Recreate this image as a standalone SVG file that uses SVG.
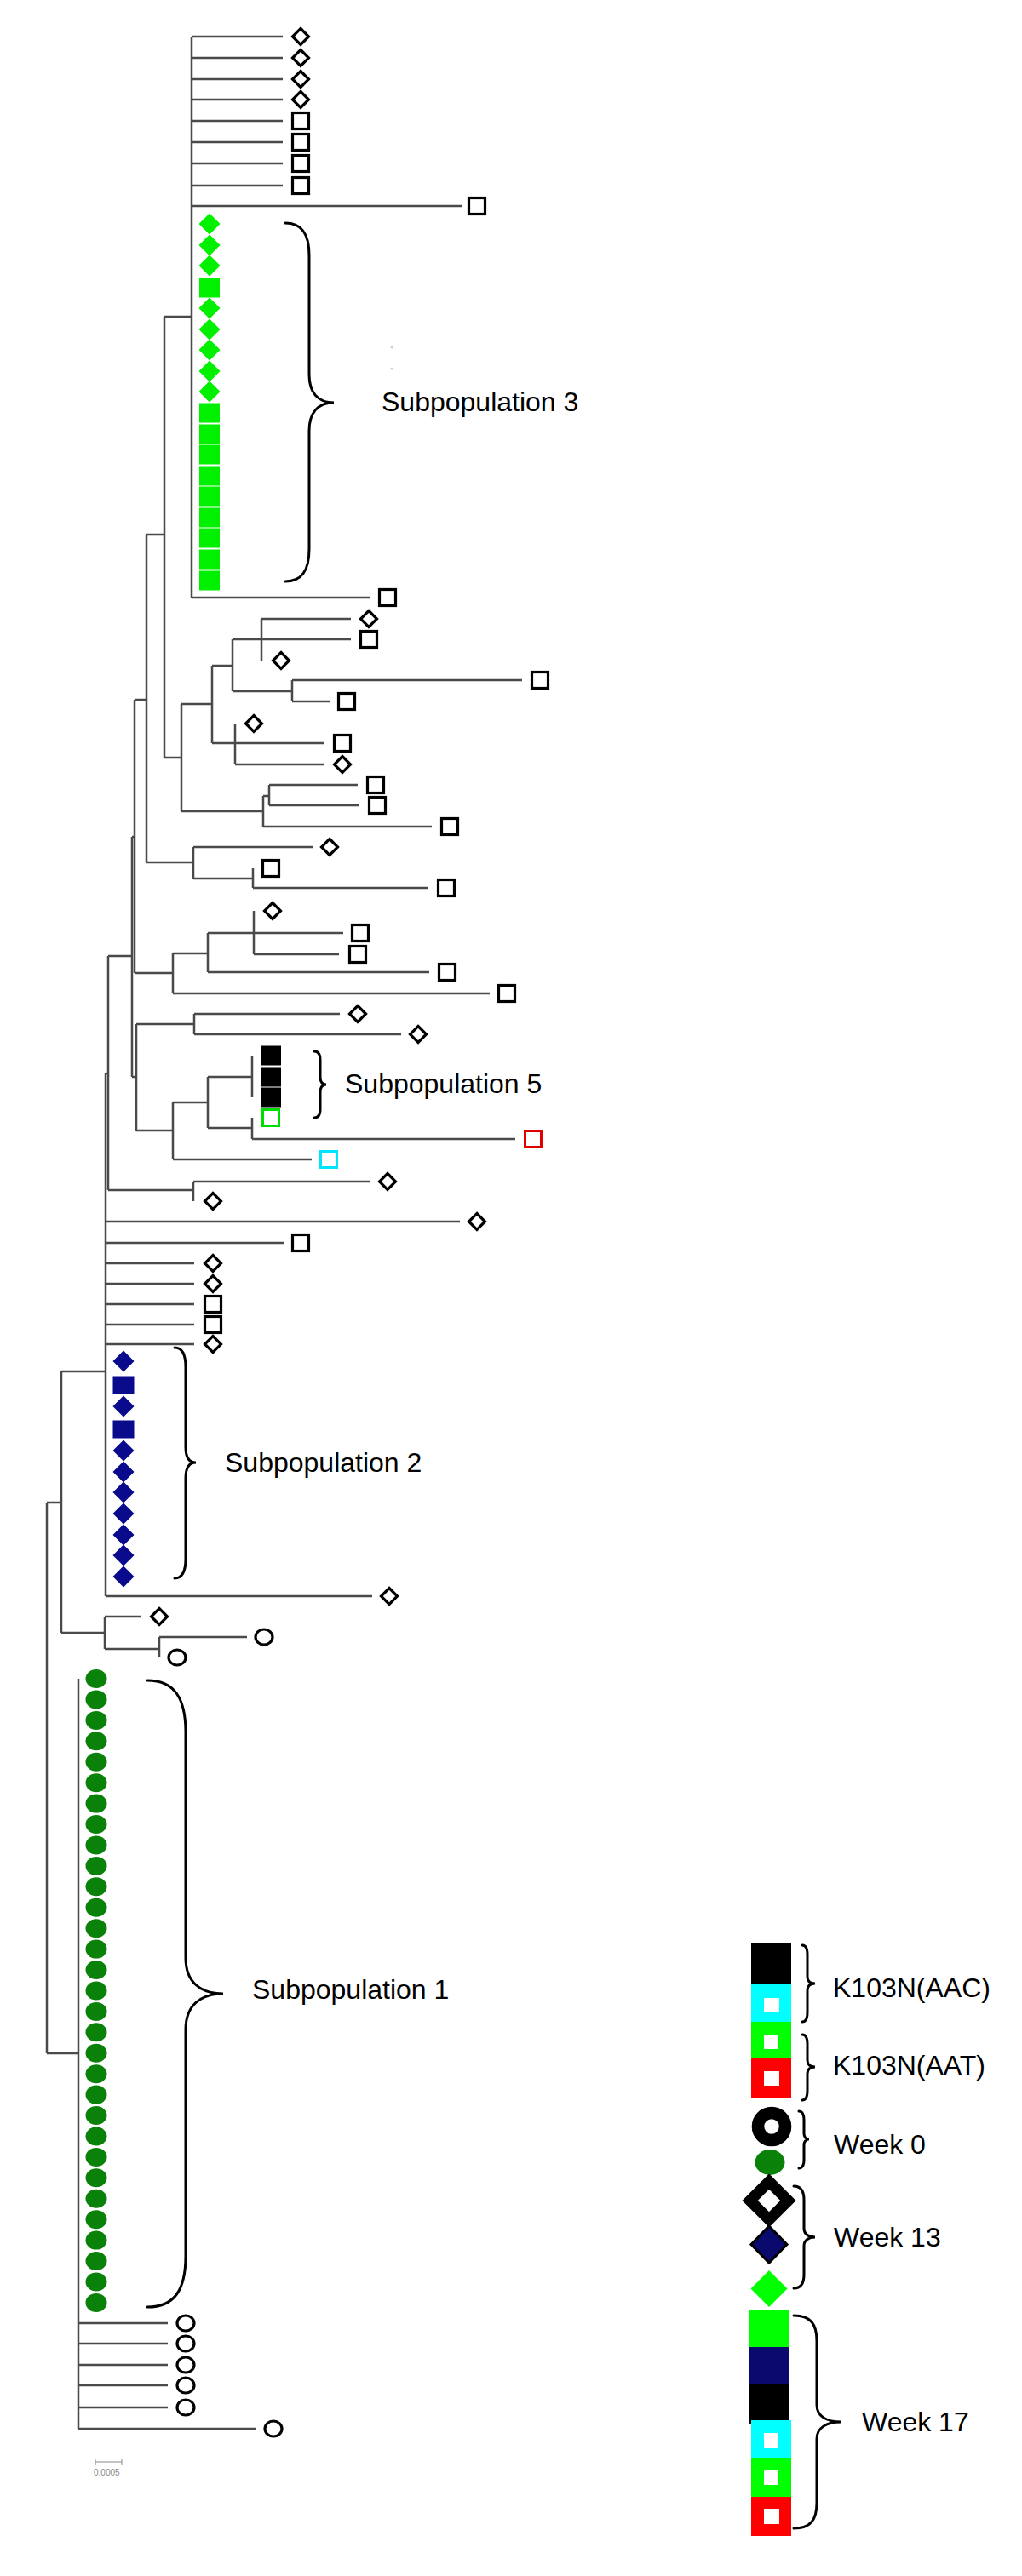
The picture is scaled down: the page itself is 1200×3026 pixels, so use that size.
<svg xmlns="http://www.w3.org/2000/svg" xmlns:xlink="http://www.w3.org/1999/xlink" width="1200" height="3026" viewBox="0 0 1200 3026">
<style>
.t{stroke:#4a4a4a;stroke-width:2.5;fill:none}
.br{stroke:#000;stroke-width:3;fill:none;stroke-linecap:round}
.lbl{font-family:"Liberation Sans",Arial,sans-serif;font-size:32px;fill:#000}
</style>
<defs>
<polygon id="od" points="0,-9.5 9.5,0 0,9.5 -9.5,0" fill="#fff" stroke="#000" stroke-width="3.2"/>
<rect id="os" x="-9.5" y="-9.5" width="19" height="19" fill="#fff" stroke="#000" stroke-width="3.2"/>
<ellipse id="oc" rx="10" ry="9" fill="#fff" stroke="#000" stroke-width="3.2"/>
<polygon id="gd" points="0,-12.5 12.5,0 0,12.5 -12.5,0" fill="#00f000"/>
<rect id="gs" x="-12" y="-11.5" width="24" height="23" fill="#00f000"/>
<polygon id="bd" points="0,-12.5 12.5,0 0,12.5 -12.5,0" fill="#0a0a8c"/>
<rect id="bs" x="-12.5" y="-10.5" width="25" height="21" fill="#0a0a8c"/>
<ellipse id="gc" rx="12.5" ry="11" fill="#0a820a"/>
<rect id="ks" x="-12" y="-11.5" width="24" height="23" fill="#000"/>
<rect id="gos" x="-9.5" y="-9.5" width="19" height="19" fill="#fff" stroke="#00dd00" stroke-width="3"/>
<rect id="ros" x="-9.5" y="-9.5" width="19" height="19" fill="#fff" stroke="#e00000" stroke-width="3"/>
<rect id="cos" x="-9.5" y="-9.5" width="19" height="19" fill="#fff" stroke="#00e5ff" stroke-width="3"/>
</defs>
<rect width="1200" height="3026" fill="#fff"/>

<g id="connectors" class="t">
<path d="M225 43V702 M225 43H332 M225 68H332 M225 93H332 M225 117H332 M225 142H332 M225 167H332 M225 192H332 M225 218H332 M225 242H542 M225 702H435"/>
<path d="M193 372H225 M193 372V890 M172 628H193 M172 628V1013 M193 890H213 M213 827V953 M213 827H249 M249 782V873 M249 782H273 M273 751V812 M273 751H412 M307 727V776 M307 727H412 M273 812H343 M343 799V824 M343 799H613 M343 824H387 M249 873H380 M276 850V898 M276 898H380 M213 953H309 M309 935V971 M309 935H316 M316 922V946 M316 922H420 M316 946H422 M309 971H507"/>
<path d="M172 1013H227 M227 995V1032 M227 995H367 M227 1032H297 M297 1020V1043 M297 1043H503"/>
<path d="M158 822H172 M158 822V1143 M158 1143H203 M203 1120V1167 M203 1120H244 M244 1096V1142 M244 1096H403 M298 1070V1121 M298 1121H398 M244 1142H504 M203 1167H575"/>
<path d="M155 983H158 M155 983V1265 M155 1265H160 M160 1203V1328 M160 1203H228 M228 1191V1215 M228 1191H399 M228 1215H471 M160 1328H203 M203 1295V1362 M203 1295H244 M244 1265V1325 M244 1265H296 M296 1240V1289 M244 1325H296 M296 1313V1338 M296 1338H605 M203 1362H366"/>
<path d="M127 1123H155 M127 1123V1398 M127 1398H227 M227 1388V1411 M227 1388H434"/>
<path d="M124 1261H127 M124 1261V1875 M124 1435H540 M124 1460H333 M124 1484H228 M124 1508H228 M124 1532H228 M124 1556H228 M124 1579H228 M124 1875H437"/>
<path d="M72 1611H124 M72 1611V1918 M72 1918H123 M123 1899V1937 M123 1899H165 M123 1937H187 M187 1923V1947 M187 1923H290"/>
<path d="M55 1765H72 M55 1765V2412 M55 2412H92 M92 1972V2853 M92 2729H197 M92 2753H197 M92 2778H197 M92 2802H197 M92 2828H197 M92 2853H300"/>
</g>

<g id="leaves-top">
<g id="n1"><use href="#od" x="353" y="43"/></g>
<g id="n2"><use href="#od" x="353" y="68"/></g>
<g id="n3"><use href="#od" x="353" y="93"/></g>
<g id="n4"><use href="#od" x="353" y="117"/></g>
<g id="n5"><use href="#os" x="353" y="142"/></g>
<g id="n6"><use href="#os" x="353" y="167"/></g>
<g id="n7"><use href="#os" x="353" y="192"/></g>
<g id="n8"><use href="#os" x="353" y="218"/></g>
<g id="n9"><use href="#os" x="560" y="242"/></g>
</g>
<g id="subpop3-leaves">
<g id="g1"><use href="#gd" x="246" y="263"/></g>
<g id="g2"><use href="#gd" x="246" y="288"/></g>
<g id="g3"><use href="#gd" x="246" y="312"/></g>
<g id="g4"><use href="#gs" x="246" y="338"/></g>
<g id="g5"><use href="#gd" x="246" y="362"/></g>
<g id="g6"><use href="#gd" x="246" y="387"/></g>
<g id="g7"><use href="#gd" x="246" y="411"/></g>
<g id="g8"><use href="#gd" x="246" y="436"/></g>
<g id="g9"><use href="#gd" x="246" y="460"/></g>
<g id="g10"><use href="#gs" x="246" y="485"/></g>
<g id="g11"><use href="#gs" x="246" y="510"/></g>
<g id="g12"><use href="#gs" x="246" y="534"/></g>
<g id="g13"><use href="#gs" x="246" y="559"/></g>
<g id="g14"><use href="#gs" x="246" y="583"/></g>
<g id="g15"><use href="#gs" x="246" y="608"/></g>
<g id="g16"><use href="#gs" x="246" y="632"/></g>
<g id="g17"><use href="#gs" x="246" y="657"/></g>
<g id="g18"><use href="#gs" x="246" y="682"/></g>
</g>
<circle cx="460" cy="408" r="1.5" fill="#ccc"/>
<circle cx="460" cy="433" r="1.5" fill="#ccc"/>
<g id="leaves-mid">
<g id="m1"><use href="#os" x="455" y="702"/></g>
<g id="m2"><use href="#od" x="433" y="727"/></g>
<g id="m3"><use href="#os" x="433" y="751"/></g>
<g id="m4"><use href="#od" x="330" y="776"/></g>
<g id="m5"><use href="#os" x="634" y="799"/></g>
<g id="m6"><use href="#os" x="407" y="824"/></g>
<g id="m7"><use href="#od" x="298" y="850"/></g>
<g id="m8"><use href="#os" x="402" y="873"/></g>
<g id="m9"><use href="#od" x="402" y="898"/></g>
<g id="m10"><use href="#os" x="441" y="922"/></g>
<g id="m11"><use href="#os" x="443" y="946"/></g>
<g id="m12"><use href="#os" x="528" y="971"/></g>
<g id="m13"><use href="#od" x="387" y="995"/></g>
<g id="m14"><use href="#os" x="318" y="1020"/></g>
<g id="m15"><use href="#os" x="524" y="1043"/></g>
<g id="m16"><use href="#od" x="320" y="1070"/></g>
<g id="m17"><use href="#os" x="423" y="1096"/></g>
<g id="m18"><use href="#os" x="420" y="1121"/></g>
<g id="m19"><use href="#os" x="525" y="1142"/></g>
<g id="m20"><use href="#os" x="595" y="1167"/></g>
<g id="m21"><use href="#od" x="420" y="1191"/></g>
<g id="m22"><use href="#od" x="491" y="1215"/></g>
</g>
<g id="subpop5-leaves">
<g id="k1"><use href="#ks" x="318" y="1240"/></g>
<g id="k2"><use href="#ks" x="318" y="1265"/></g>
<g id="k3"><use href="#ks" x="318" y="1289"/></g>
<g id="k4"><use href="#gos" x="318" y="1313"/></g>
<g id="k5"><use href="#ros" x="626" y="1338"/></g>
<g id="k6"><use href="#cos" x="386" y="1362"/></g>
</g>
<g id="leaves-low">
<g id="l1"><use href="#od" x="455" y="1388"/></g>
<g id="l2"><use href="#od" x="250" y="1411"/></g>
<g id="l3"><use href="#od" x="560" y="1435"/></g>
<g id="l4"><use href="#os" x="353" y="1460"/></g>
<g id="l5"><use href="#od" x="250" y="1484"/></g>
<g id="l6"><use href="#od" x="250" y="1508"/></g>
<g id="l7"><use href="#os" x="250" y="1532"/></g>
<g id="l8"><use href="#os" x="250" y="1556"/></g>
<g id="l9"><use href="#od" x="250" y="1579"/></g>
<g id="l10"><use href="#od" x="457" y="1875"/></g>
<g id="l11"><use href="#od" x="187" y="1899"/></g>
<g id="l12"><use href="#oc" x="310" y="1923"/></g>
<g id="l13"><use href="#oc" x="208" y="1947"/></g>
</g>
<g id="subpop2-leaves">
<g id="b1"><use href="#bd" x="145" y="1599"/></g>
<g id="b2"><use href="#bs" x="145" y="1627"/></g>
<g id="b3"><use href="#bd" x="145" y="1652"/></g>
<g id="b4"><use href="#bs" x="145" y="1679"/></g>
<g id="b5"><use href="#bd" x="145" y="1704"/></g>
<g id="b6"><use href="#bd" x="145" y="1729"/></g>
<g id="b7"><use href="#bd" x="145" y="1753"/></g>
<g id="b8"><use href="#bd" x="145" y="1778"/></g>
<g id="b9"><use href="#bd" x="145" y="1803"/></g>
<g id="b10"><use href="#bd" x="145" y="1827"/></g>
<g id="b11"><use href="#bd" x="145" y="1852"/></g>
</g>
<g id="subpop1-leaves">
<g id="c1"><use href="#gc" x="113" y="1972"/></g>
<g id="c2"><use href="#gc" x="113" y="1996.4"/></g>
<g id="c3"><use href="#gc" x="113" y="2020.9"/></g>
<g id="c4"><use href="#gc" x="113" y="2045.3"/></g>
<g id="c5"><use href="#gc" x="113" y="2069.7"/></g>
<g id="c6"><use href="#gc" x="113" y="2094.2"/></g>
<g id="c7"><use href="#gc" x="113" y="2118.6"/></g>
<g id="c8"><use href="#gc" x="113" y="2143"/></g>
<g id="c9"><use href="#gc" x="113" y="2167.4"/></g>
<g id="c10"><use href="#gc" x="113" y="2191.9"/></g>
<g id="c11"><use href="#gc" x="113" y="2216.3"/></g>
<g id="c12"><use href="#gc" x="113" y="2240.7"/></g>
<g id="c13"><use href="#gc" x="113" y="2265.2"/></g>
<g id="c14"><use href="#gc" x="113" y="2289.6"/></g>
<g id="c15"><use href="#gc" x="113" y="2314"/></g>
<g id="c16"><use href="#gc" x="113" y="2338.5"/></g>
<g id="c17"><use href="#gc" x="113" y="2362.9"/></g>
<g id="c18"><use href="#gc" x="113" y="2387.3"/></g>
<g id="c19"><use href="#gc" x="113" y="2411.7"/></g>
<g id="c20"><use href="#gc" x="113" y="2436.2"/></g>
<g id="c21"><use href="#gc" x="113" y="2460.6"/></g>
<g id="c22"><use href="#gc" x="113" y="2485"/></g>
<g id="c23"><use href="#gc" x="113" y="2509.5"/></g>
<g id="c24"><use href="#gc" x="113" y="2533.9"/></g>
<g id="c25"><use href="#gc" x="113" y="2558.3"/></g>
<g id="c26"><use href="#gc" x="113" y="2582.8"/></g>
<g id="c27"><use href="#gc" x="113" y="2607.2"/></g>
<g id="c28"><use href="#gc" x="113" y="2631.6"/></g>
<g id="c29"><use href="#gc" x="113" y="2656"/></g>
<g id="c30"><use href="#gc" x="113" y="2680.5"/></g>
<g id="c31"><use href="#gc" x="113" y="2704.9"/></g>
</g>
<g id="leaves-bottom">
<g id="w1"><use href="#oc" x="218" y="2729"/></g>
<g id="w2"><use href="#oc" x="218" y="2753"/></g>
<g id="w3"><use href="#oc" x="218" y="2778"/></g>
<g id="w4"><use href="#oc" x="218" y="2802"/></g>
<g id="w5"><use href="#oc" x="218" y="2828"/></g>
<g id="w6"><use href="#oc" x="321" y="2853"/></g>
</g>

<g id="braces" class="br">
<path d="M335 262 C354 262 363 274 363 300 L363 440 C363 461 373 473 392 473 C373 473 363 485 363 506 L363 645 C363 671 354 683 335 683"/>
<path d="M369 1235 C374 1235 376 1239 376 1245 L376 1265 C376 1271 378 1274 383 1274 C378 1274 376 1277 376 1283 L376 1303 C376 1309 374 1313 369 1313"/>
<path d="M205 1583 C214 1583 218 1592 218 1606 L218 1700 C218 1712 222 1718 230 1718 C222 1718 218 1724 218 1736 L218 1831 C218 1845 214 1854 205 1854"/>
<path d="M173 1974 C205 1974 218 1995 218 2035 L218 2300 C218 2328 235 2342 262 2342 C235 2342 218 2356 218 2384 L218 2650 C218 2690 205 2710 173 2710"/>
</g>
<g id="subpop-labels" class="lbl">
<text x="448" y="483">Subpopulation 3</text>
<text x="405" y="1284">Subpopulation 5</text>
<text x="264" y="1729">Subpopulation 2</text>
<text x="296" y="2348">Subpopulation 1</text>
</g>

<g id="scalebar">
<path d="M112 2892H143 M112 2888V2896 M143 2888V2896" stroke="#888" stroke-width="1" fill="none"/>
<text x="110" y="2908" font-family="Liberation Sans, Arial, sans-serif" font-size="10" fill="#888">0.0005</text>
</g>

<g id="legend">
<g id="lg-aac">
<rect x="882" y="2283" width="47" height="48" fill="#000"/>
<rect x="882" y="2331" width="47" height="44" fill="#00ffff"/>
<rect x="897" y="2347" width="18" height="16" fill="#fff"/>
<path class="br" d="M942 2285 C946 2285 948 2289 948 2296 L948 2322 C948 2327 951 2330 957 2330 C951 2330 948 2333 948 2338 L948 2364 C948 2371 946 2375 942 2375"/>
<text class="lbl" x="978" y="2346">K103N(AAC)</text>
</g>
<g id="lg-aat">
<rect x="882" y="2375" width="47" height="43" fill="#00ff00"/>
<rect x="897" y="2391" width="17" height="16" fill="#fff"/>
<rect x="882" y="2418" width="47" height="47" fill="#ff0000"/>
<rect x="897" y="2433" width="18" height="17" fill="#fff"/>
<path class="br" d="M942 2390 C946 2390 948 2394 948 2401 L948 2420 C948 2425 951 2428 957 2428 C951 2428 948 2431 948 2436 L948 2456 C948 2463 946 2467 942 2467"/>
<text class="lbl" x="978" y="2437">K103N(AAT)</text>
</g>
<g id="lg-week0">
<circle cx="906" cy="2498" r="16" fill="#fff" stroke="#000" stroke-width="14.6"/>
<ellipse cx="904" cy="2540" rx="17.5" ry="15" fill="#0a820a"/>
<path class="br" d="M938 2480 C942 2480 944 2484 944 2490 L944 2506 C944 2510 946 2513 950 2513 C946 2513 944 2516 944 2520 L944 2537 C944 2543 942 2547 938 2547"/>
<text class="lbl" x="979" y="2530">Week 0</text>
</g>
<g id="lg-week13">
<polygon points="903,2562.6 925.4,2585 903,2607.4 880.6,2585" fill="#fff" stroke="#000" stroke-width="13"/>
<polygon points="903,2615 924,2636.5 903,2658 882,2636.5" fill="#0a0a6e" stroke="#000" stroke-width="3"/>
<polygon points="903,2667 924.5,2688.5 903,2710 881.5,2688.5" fill="#00ff00"/>
<path class="br" d="M932 2568 C940 2568 944 2574 944 2584 L944 2618 C944 2624 949 2628 957 2628 C949 2628 944 2632 944 2638 L944 2672 C944 2682 940 2688 932 2688"/>
<text class="lbl" x="979" y="2639">Week 13</text>
</g>
<g id="lg-week17">
<rect x="880" y="2714" width="47" height="43" fill="#00ff00"/>
<rect x="880" y="2757" width="47" height="43" fill="#0a0a6e"/>
<rect x="880" y="2800" width="47" height="47" fill="#000"/>
<rect x="882" y="2843" width="47" height="44" fill="#00ffff"/>
<rect x="897" y="2858" width="17" height="18" fill="#fff"/>
<rect x="882" y="2887" width="47" height="46" fill="#00ff00"/>
<rect x="897" y="2902" width="17" height="17" fill="#fff"/>
<rect x="882" y="2933" width="47" height="46" fill="#ff0000"/>
<rect x="897" y="2947" width="18" height="18" fill="#fff"/>
<path class="br" d="M932 2720 C952 2720 959 2730 959 2750 L959 2825 C959 2838 970 2845 988 2845 C970 2845 959 2852 959 2865 L959 2940 C959 2960 952 2970 932 2970"/>
<text class="lbl" x="1012" y="2856">Week 17</text>
</g>
</g>
</svg>
